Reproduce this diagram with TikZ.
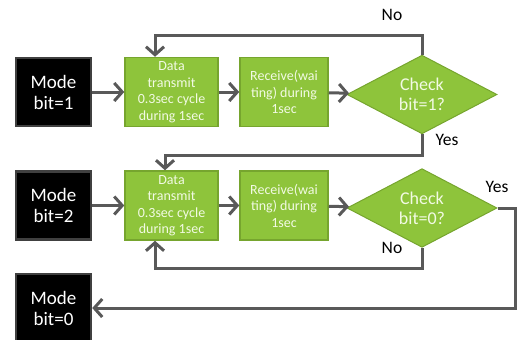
\documentclass[tikz,border=0pt]{standalone}
\usepackage{fontspec}
\setmainfont{Carlito}
\usepackage{tikz}
\usetikzlibrary{shapes.geometric, arrows.meta, positioning}
\definecolor{leaf}{RGB}{142,196,59}
\definecolor{leafedge}{RGB}{118,165,46}
\definecolor{wire}{RGB}{89,89,89}
\definecolor{modeedge}{RGB}{64,64,64}
\definecolor{paletext}{RGB}{242,250,228}
\tikzstyle{mode} = [rectangle, fill=black, draw=modeedge, line width=2.5pt, minimum width=75pt, minimum height=68pt, text=white, align=center, font=\fontsize{19}{21}\selectfont]
\tikzstyle{task} = [rectangle, fill=leaf, draw=leafedge, line width=1.5pt, minimum height=69pt, inner sep=1pt, text=paletext, align=center, font=\fontsize{14}{16.5}\selectfont]
\tikzstyle{check} = [diamond, fill=leaf, draw=leafedge, line width=1pt, minimum width=150pt, minimum height=64pt, inner sep=0pt, text=paletext, align=center, font=\fontsize{18}{20}\selectfont]
\tikzset{flowarrow/.style={line width=3pt, draw=wire, -{Straight Barb[length=8pt,width=18pt]}}}
\tikzstyle{answer} = [font=\fontsize{17.5}{18}\selectfont]

\begin{document}
\begin{tikzpicture}[x=1pt, y=-1pt]
\useasboundingbox (0,0) rectangle (517,340);

% First row: bit=1
\node[mode] (mode1) at (53.5,92) {Mode\\bit=1};
\node[task, minimum width=93pt] (send1) at (171.5,92) {Data\\transmit\\0.3sec cycle\\during 1sec};
\node[task, minimum width=88pt] (recv1) at (284,92) {Receive(wai\\ting) during\\1sec};
\node[check] (check1) at (422,94.5) {Check\\bit=1?};

% Second row: bit=2
\node[mode] (mode2) at (53.5,205.5) {Mode\\bit=2};
\node[task, minimum width=93pt] (send2) at (171.5,205.5) {Data\\transmit\\0.3sec cycle\\during 1sec};
\node[task, minimum width=88pt] (recv2) at (284,205.5) {Receive(wai\\ting) during\\1sec};
\node[check] (check2) at (422,208) {Check\\bit=0?};

% Last row: bit=0
\node[mode] (mode0) at (53.5,308) {Mode\\bit=0};

% Corner points of the loops
\coordinate (back1) at (155,35);
\coordinate (down1) at (165,155);
\coordinate (back2) at (155,268);
\coordinate (exit2) at (515,308);

% Straight arrows
\draw[flowarrow] (mode1) -- (send1);
\draw[flowarrow] (send1) -- (recv1);
\draw[flowarrow] (recv1) -- (check1);
\draw[flowarrow] (mode2) -- (send2);
\draw[flowarrow] (send2) -- (recv2);
\draw[flowarrow] (recv2) -- (check2);

% Loops
\draw[flowarrow] (check1.north) |- (back1) -- (send1.north -| back1);
\draw[flowarrow] (check1.south) |- (down1) -- (send2.north -| down1);
\draw[flowarrow] (check2.south) |- (back2) -- (send2.south -| back2);
\draw[flowarrow] (check2.east) -| (exit2) -- (mode0.east);

% Answers
\node[answer] (no1) at (392,15) {No};
\node[answer] (yes1) at (447,140) {Yes};
\node[answer] (yes2) at (497,187) {Yes};
\node[answer] (no2) at (392,248) {No};
\end{tikzpicture}
\end{document}
